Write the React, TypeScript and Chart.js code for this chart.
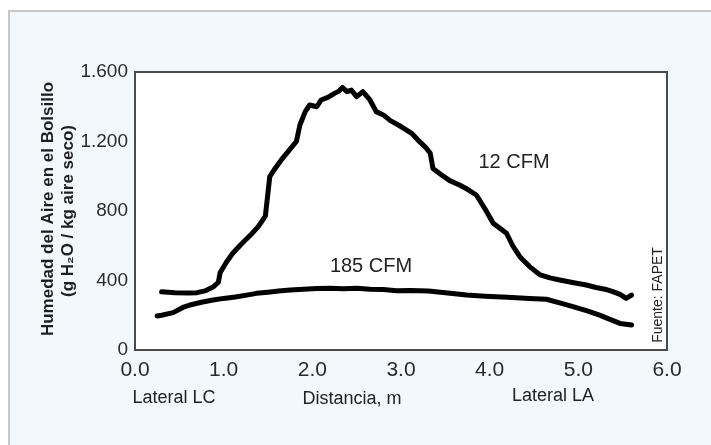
import React, { useEffect, useRef } from "react";
import { Chart, registerables } from "chart.js";

Chart.register(...registerables);

// 12 CFM series (distance m, humidity g H2O / kg dry air)
const x12 = [0.30, 0.45, 0.60, 0.70, 0.80, 0.88, 0.94, 0.96, 1.03, 1.10, 1.20, 1.30, 1.39, 1.47, 1.52, 1.58, 1.65, 1.74, 1.82, 1.86, 1.92, 1.97, 2.05, 2.10, 2.18, 2.25, 2.30, 2.34, 2.39, 2.44, 2.50, 2.57, 2.65, 2.72, 2.80, 2.88, 2.97, 3.05, 3.12, 3.21, 3.28, 3.33, 3.36, 3.45, 3.55, 3.66, 3.75, 3.85, 3.95, 4.04, 4.19, 4.26, 4.34, 4.45, 4.57, 4.68, 4.79, 4.92, 5.09, 5.20, 5.30, 5.39, 5.47, 5.54, 5.60];
const y12 = [335, 330, 328, 330, 342, 362, 390, 445, 505, 555, 610, 660, 710, 770, 998, 1045, 1094, 1150, 1200, 1295, 1372, 1410, 1400, 1439, 1455, 1477, 1490, 1511, 1487, 1496, 1458, 1487, 1439, 1372, 1353, 1320, 1295, 1270, 1247, 1199, 1165, 1132, 1045, 1010, 975, 950, 925, 892, 810, 729, 672, 600, 537, 480, 432, 415, 403, 390, 374, 360, 350, 336, 320, 297, 316];

// 185 CFM series
const x185 = [0.25, 0.30, 0.43, 0.54, 0.62, 0.75, 0.88, 1.00, 1.13, 1.26, 1.37, 1.50, 1.62, 1.75, 1.90, 2.05, 2.20, 2.35, 2.50, 2.65, 2.80, 2.95, 3.10, 3.31, 3.50, 3.74, 3.95, 4.20, 4.45, 4.64, 4.80, 4.94, 5.10, 5.24, 5.35, 5.47, 5.60];
const y185 = [196, 200, 215, 245, 259, 275, 288, 297, 305, 316, 326, 333, 340, 345, 350, 354, 355, 352, 356, 350, 348, 341, 343, 340, 330, 317, 310, 303, 296, 292, 270, 250, 225, 201, 178, 153, 144];

const xTicks = [0, 1, 2, 3, 4, 5, 6];
const yTicks = [0, 400, 800, 1200, 1600];
const xTickLabels = ["0.0", "1.0", "2.0", "3.0", "4.0", "5.0", "6.0"];
const yTickLabels = ["0", "400", "800", "1.200", "1.600"];

const seriesLabels = ["12 CFM", "185 CFM"];
const yTitle = ["Humedad del Aire en el Bolsillo", "(g H\u2082O / kg aire seco)"];
const xTitle = "Distancia, m";
const leftNote = "Lateral LC";
const rightNote = "Lateral LA";
const source = "Fuente: FAPET";

const FONT = "'Liberation Sans', Arial, Helvetica, sans-serif";

export default function App() {
  const ref = useRef<HTMLCanvasElement | null>(null);

  useEffect(() => {
    const canvas = ref.current;
    if (!canvas) return;

    const decor = {
      id: "decor",
      beforeDraw(chart: any) {
        const { ctx, chartArea: a } = chart;
        ctx.save();
        ctx.fillStyle = "#ffffff";
        ctx.fillRect(0, 0, 711, 445);
        ctx.fillStyle = "#f2f8fc";
        ctx.fillRect(9, 11, 710, 440);
        ctx.strokeStyle = "#c8c8c8";
        ctx.lineWidth = 2;
        ctx.strokeRect(9, 11, 710, 440);
        ctx.fillStyle = "#ffffff";
        ctx.fillRect(a.left, a.top, a.right - a.left, a.bottom - a.top);
        ctx.restore();
      },
      afterDraw(chart: any) {
        const { ctx, chartArea: a } = chart;
        ctx.save();
        ctx.strokeStyle = "#4a4a4a";
        ctx.lineWidth = 2;
        ctx.strokeRect(a.left, a.top, a.right - a.left, a.bottom - a.top);

        ctx.fillStyle = "#222";
        ctx.textAlign = "center";
        ctx.textBaseline = "alphabetic";
        ctx.font = `18px ${FONT}`;
        ctx.fillText(leftNote, 174, 403);
        ctx.fillText(xTitle, 352, 404);
        ctx.fillText(rightNote, 553, 401);

        ctx.font = `20px ${FONT}`;
        ctx.fillText(seriesLabels[0], 514, 168);
        ctx.fillText(seriesLabels[1], 371, 272);

        // source note, rotated
        ctx.save();
        ctx.translate(662, 295);
        ctx.rotate(-Math.PI / 2);
        ctx.font = `14px ${FONT}`;
        ctx.fillText(source, 0, 0);
        ctx.restore();

        // y title
        ctx.save();
        ctx.translate(53, 209);
        ctx.rotate(-Math.PI / 2);
        ctx.font = `bold 17px ${FONT}`;
        ctx.fillStyle = "#1e1e1e";
        ctx.fillText(yTitle[0], 0, 0);
        ctx.fillText(yTitle[1], -2, 20);
        ctx.restore();

        ctx.restore();
      },
    };

    const chart = new Chart(canvas, {
      type: "scatter",
      data: {
        datasets: [
          {
            label: seriesLabels[0],
            data: x12.map((x, i) => ({ x, y: y12[i] })),
            showLine: true,
            borderColor: "#000",
            borderWidth: 5,
            pointRadius: 0,
            tension: 0,
            borderJoinStyle: "round",
            borderCapStyle: "round",
          },
          {
            label: seriesLabels[1],
            data: x185.map((x, i) => ({ x, y: y185[i] })),
            showLine: true,
            borderColor: "#000",
            borderWidth: 5,
            pointRadius: 0,
            tension: 0,
            borderJoinStyle: "round",
            borderCapStyle: "round",
          },
        ],
      },
      options: {
        responsive: false,
        animation: false,
        devicePixelRatio: 1,
        layout: { padding: { left: 0, top: 72, right: 44, bottom: 35 } },
        plugins: { legend: { display: false }, tooltip: { enabled: false } },
        scales: {
          x: {
            type: "linear",
            min: 0,
            max: 6,
            afterBuildTicks: (s: any) => {
              s.ticks = xTicks.map((v) => ({ value: v }));
            },
            afterFit: (s: any) => {
              s.height = 60;
            },
            grid: { display: false, drawTicks: false },
            border: { display: false },
            ticks: {
              callback: (v: any) => xTickLabels[xTicks.indexOf(Number(v))] ?? "",
              font: { family: FONT, size: 21 },
              color: "#2a2a2a",
              padding: 8,
              maxRotation: 0,
              autoSkip: false,
            },
          },
          y: {
            type: "linear",
            min: 0,
            max: 1600,
            afterBuildTicks: (s: any) => {
              s.ticks = yTicks.map((v) => ({ value: v }));
            },
            afterFit: (s: any) => {
              s.width = 135;
            },
            grid: { display: false, drawTicks: false },
            border: { display: false },
            ticks: {
              callback: (v: any) => yTickLabels[yTicks.indexOf(Number(v))] ?? "",
              font: { family: FONT, size: 19 },
              color: "#2a2a2a",
              padding: 7,
              autoSkip: false,
            },
          },
        },
      },
      plugins: [decor],
    } as any);

    return () => chart.destroy();
  }, []);

  return (
    <div style={{ position: "fixed", left: 0, top: 0, width: 711, height: 445 }}>
      <canvas ref={ref} width={711} height={445} style={{ display: "block" }} />
    </div>
  );
}
